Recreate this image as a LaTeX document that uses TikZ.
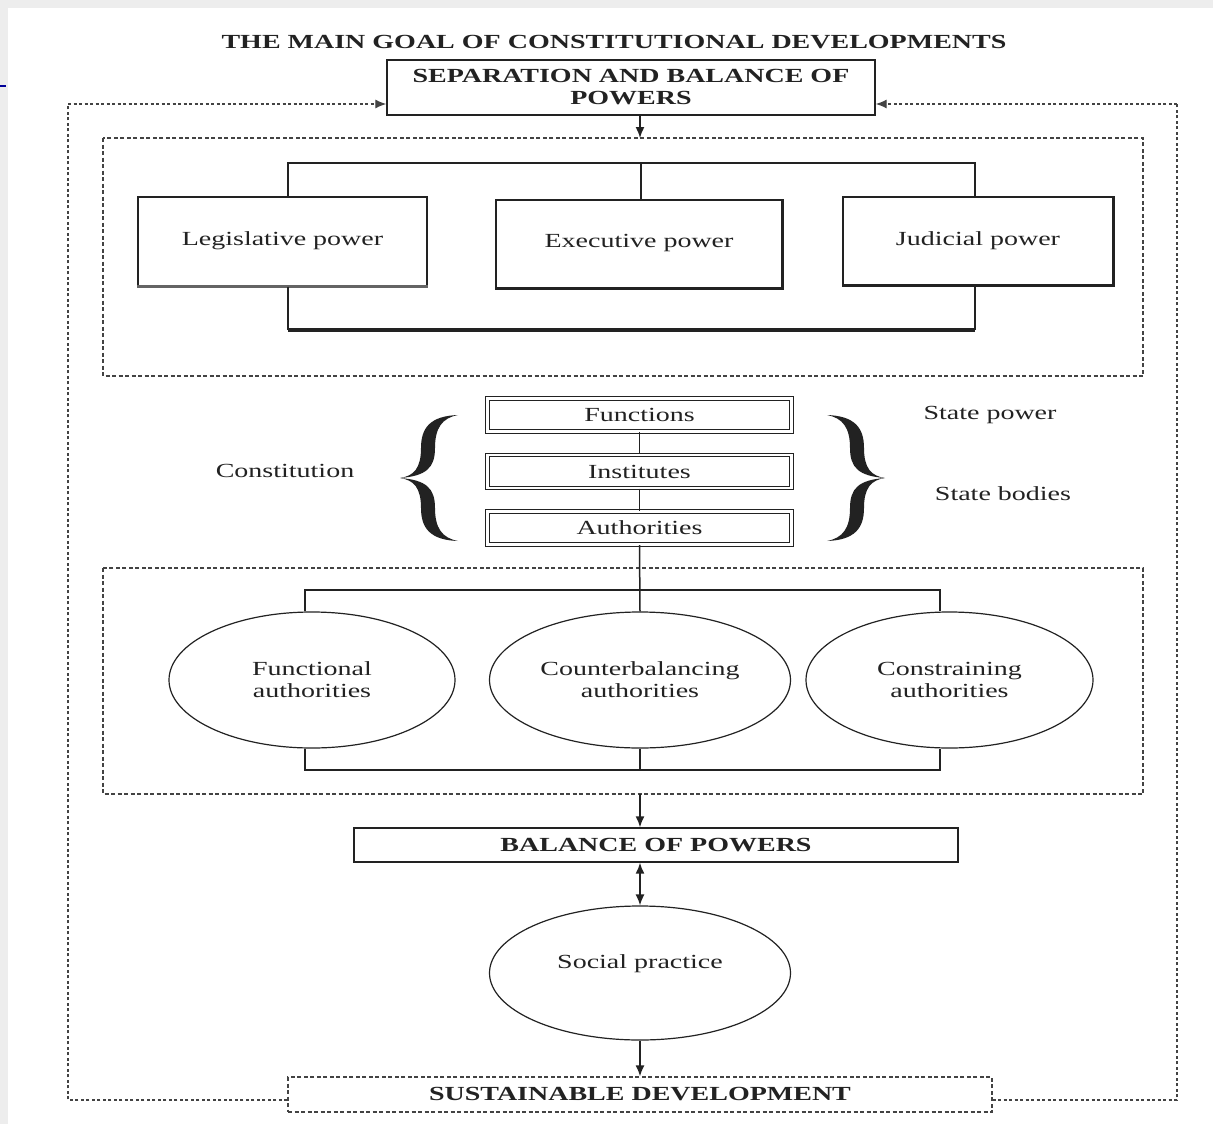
\documentclass[tikz,border=0pt]{standalone}
\usepackage{fontspec}
\setmainfont{Liberation Serif}[FakeStretch=1.4]
\usetikzlibrary{shapes.geometric,arrows.meta}
\definecolor{ink}{HTML}{222222}
\definecolor{frame}{HTML}{EDEDED}
\begin{document}
\begin{tikzpicture}[x=1pt,y=-1pt,
  font=\fontsize{20}{22}\selectfont, text=ink,
  box/.style={draw=ink, line width=1.4pt, inner sep=0pt, align=center},
  powerbox/.style={box, minimum height=89pt},
  dblbox/.style={draw=ink, double=white, double distance=2.4pt, line width=1.1pt, inner sep=0pt, minimum width=304pt, minimum height=33pt},
  oval/.style={ellipse, draw=ink, line width=1.2pt, inner sep=0pt, align=center},
  dashbox/.style={draw=ink!85, line width=1.3pt, dash pattern=on 4pt off 2.5pt},
  loopline/.style={draw=ink!85, line width=1.2pt, dash pattern=on 3pt off 2.5pt},
  conn/.style={draw=ink, line width=1.5pt},
  arr/.style={conn, -{Latex[length=11pt,width=9pt]}},
  darr/.style={conn, {Latex[length=11pt,width=9pt]}-{Latex[length=11pt,width=9pt]}},
  curlybrace/.pic={
    \fill[ink] (58,-63) .. controls (30,-62) and (21,-50) .. (21,-30)
      .. controls (21,-10) and (14,-2) .. (0,0)
      .. controls (14,2) and (21,10) .. (21,30)
      .. controls (21,50) and (30,62) .. (58,63)
      .. controls (42,60) and (35,50) .. (35,30)
      .. controls (35,10) and (26,2) .. (0,0)
      .. controls (26,-2) and (35,-10) .. (35,-30)
      .. controls (35,-50) and (42,-60) .. (58,-63) -- cycle;
  }
]
\useasboundingbox (0,0) rectangle (1213,1124);
\fill[frame] (0,0) rectangle (1213,1124);
\fill[white] (8,8) rectangle (1213,1124);
\draw[blue!60!black, line width=1.5pt] (0,86) -- (6,86);

% title and top box
\node[font=\fontsize{20}{22}\selectfont\bfseries] (title) at (614,42) {THE MAIN GOAL OF CONSTITUTIONAL DEVELOPMENTS};
\node[box, minimum width=488pt, minimum height=55pt, font=\fontsize{20}{22}\selectfont\bfseries] (sep) at (631,87.5) {SEPARATION AND BALANCE OF\\POWERS};

% dashed group 1
\draw[dashbox] (103,138) rectangle (1143,376);
\coordinate (g1top) at (640,138);
\draw[arr] (sep.south -| g1top) -- (g1top);

% powers
\node[powerbox, minimum width=289pt] (leg) at (282.5,241.5) {\raisebox{6pt}{Legislative power}};
\node[powerbox, minimum width=286pt, minimum height=88pt] (exe) at (639,244) {\raisebox{6pt}{Executive power}};
\node[powerbox, minimum width=270pt, minimum height=88pt] (jud) at (978,241) {Judicial power};
\draw[ink!70, line width=2.6pt] (leg.south west) -- (leg.south east);
\draw[ink, line width=2.4pt] (exe.south west) -- (exe.south east) -- (exe.north east);
\draw[ink, line width=2.4pt] (jud.south west) -- (jud.south east) -- (jud.north east);

\coordinate (tl) at (288,163);
\coordinate (tr) at (975,163);
\coordinate (bl) at (288,330);
\coordinate (br) at (975,330);
\draw[conn] (tl |- leg.north) -- (tl) -- (tr) -- (tr |- jud.north);
\draw[conn] (exe.north -| 641,0) -- (641,163);
\draw[conn] (bl |- leg.south) -- (bl);
\draw[conn] (br |- jud.south) -- (br);
\draw[ink, line width=3.4pt] (bl) -- (br);

% functions / institutes / authorities
\node[dblbox] (fun) at (639.5,415) {\raisebox{-4pt}{Functions}};
\node[dblbox] (ins) at (639.5,471.5) {\raisebox{-4pt}{Institutes}};
\node[dblbox] (aut) at (639.5,528) {\raisebox{-4pt}{Authorities}};
\draw[conn] (fun.south) -- (ins.north);
\draw[conn] (ins.south) -- (aut.north);

\pic at (400,478) {curlybrace};
\pic[xscale=-1] at (885,478) {curlybrace};
\node (const) at (285,471) {Constitution};
\node (spow) at (990,415) {State power};
\node (sbod) at (1003,494) {State bodies};

% dashed group 2
\draw[dashbox] (103,568) rectangle (1143,794);
\node[oval, minimum width=286pt, minimum height=136pt] (fa) at (312,680) {Functional\\authorities};
\node[oval, minimum width=301pt, minimum height=136pt] (ca) at (640,680) {Counterbalancing\\authorities};
\node[oval, minimum width=287pt, minimum height=136pt] (sa) at (949.5,680) {Constraining\\authorities};

\coordinate (ml) at (305,590);
\coordinate (mr) at (940,590);
\coordinate (bml) at (305,770);
\coordinate (bmr) at (940,770);
\draw[conn] (aut.south) -- (ca.north);
\draw[conn] (fa.north -| ml) -- (ml) -- (mr) -- (sa.north -| mr);
\draw[conn] (fa.south -| bml) -- (bml) -- (bmr) -- (sa.south -| bmr);
\draw[conn] (ca.south) -- (ca.south |- bml);

% balance and bottom
\node[box, minimum width=604pt, minimum height=34pt, font=\fontsize{20}{22}\selectfont\bfseries] (bop) at (656,845) {BALANCE OF POWERS};
\coordinate (g2bot) at (640,794);
\draw[arr] (g2bot) -- (bop.north -| g2bot);
\node[oval, minimum width=301pt, minimum height=134pt] (soc) at (640,973) {\raisebox{22pt}{Social practice}};
\draw[darr] (bop.south -| soc.north) -- (soc.north);
\node[dashbox, minimum width=704pt, minimum height=35pt, inner sep=0pt, font=\fontsize{20}{22}\selectfont\bfseries] (sd) at (640,1094.5) {SUSTAINABLE DEVELOPMENT};
\draw[arr] (soc.south) -- (sd.north);

% outer feedback loop
\coordinate (olb) at (68,1100);
\coordinate (olt) at (68,104);
\coordinate (orb) at (1177,1100);
\coordinate (ort) at (1177,104);
\draw[loopline] (sd.west |- olb) -- (olb) -- (olt);
\draw[loopline, -{Latex[length=11pt,width=9pt]}] (olt) -- (sep.west |- olt);
\draw[loopline] (sd.east |- orb) -- (orb) -- (ort);
\draw[loopline, -{Latex[length=11pt,width=9pt]}] (ort) -- (sep.east |- ort);
\end{tikzpicture}
\end{document}
